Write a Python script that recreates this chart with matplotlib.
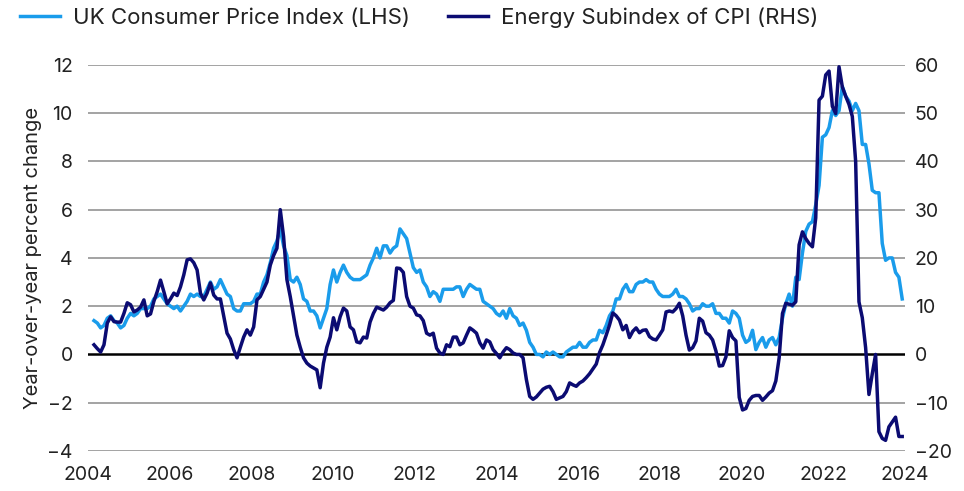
import numpy as np
import matplotlib.pyplot as plt

plt.rcParams['font.family'] = ['Inter', 'DejaVu Sans']

# UK CPI, year-over-year % (monthly, Jan 2004 - Apr 2024)
cpi = [1.4, 1.3, 1.1, 1.2, 1.5, 1.6, 1.4, 1.3, 1.1, 1.2, 1.5, 1.7,
       1.6, 1.7, 1.9, 1.9, 1.9, 2.0, 2.3, 2.4, 2.5, 2.3, 2.1, 2.0,
       1.9, 2.0, 1.8, 2.0, 2.2, 2.5, 2.4, 2.5, 2.4, 2.4, 2.7, 3.0,
       2.7, 2.8, 3.1, 2.8, 2.5, 2.4, 1.9, 1.8, 1.8, 2.1, 2.1, 2.1,
       2.2, 2.5, 2.5, 3.0, 3.3, 3.8, 4.4, 4.7, 5.2, 4.5, 4.1, 3.1,
       3.0, 3.2, 2.9, 2.3, 2.2, 1.8, 1.8, 1.6, 1.1, 1.5, 1.9, 2.9,
       3.5, 3.0, 3.4, 3.7, 3.4, 3.2, 3.1, 3.1, 3.1, 3.2, 3.3, 3.7,
       4.0, 4.4, 4.0, 4.5, 4.5, 4.2, 4.4, 4.5, 5.2, 5.0, 4.8, 4.2,
       3.6, 3.4, 3.5, 3.0, 2.8, 2.4, 2.6, 2.5, 2.2, 2.7, 2.7, 2.7,
       2.7, 2.8, 2.8, 2.4, 2.7, 2.9, 2.8, 2.7, 2.7, 2.2, 2.1, 2.0,
       1.9, 1.7, 1.6, 1.8, 1.5, 1.9, 1.6, 1.5, 1.2, 1.3, 1.0, 0.5,
       0.3, 0.0, 0.0, -0.1, 0.1, 0.0, 0.1, 0.0, -0.1, -0.1, 0.1, 0.2,
       0.3, 0.3, 0.5, 0.3, 0.3, 0.5, 0.6, 0.6, 1.0, 0.9, 1.2, 1.6,
       1.8, 2.3, 2.3, 2.7, 2.9, 2.6, 2.6, 2.9, 3.0, 3.0, 3.1, 3.0,
       3.0, 2.7, 2.5, 2.4, 2.4, 2.4, 2.5, 2.7, 2.4, 2.4, 2.3, 2.1,
       1.8, 1.9, 1.9, 2.1, 2.0, 2.0, 2.1, 1.7, 1.7, 1.5, 1.5, 1.3,
       1.8, 1.7, 1.5, 0.8, 0.5, 0.6, 1.0, 0.2, 0.5, 0.7, 0.3, 0.6,
       0.7, 0.4, 0.7, 1.5, 2.1, 2.5, 2.0, 3.2, 3.1, 4.2, 5.1, 5.4,
       5.5, 6.2, 7.0, 9.0, 9.1, 9.4, 10.1, 9.9, 10.1, 11.1, 10.7, 10.5,
       10.1, 10.4, 10.1, 8.7, 8.7, 7.9, 6.8, 6.7, 6.7, 4.6, 3.9, 4.0,
       4.0, 3.4, 3.2, 2.3]

# Energy subindex of CPI, year-over-year %
energy = [2.0, 1.2, 0.5, 2.0, 6.5, 7.8, 6.8, 6.7, 6.7, 8.5, 10.7, 10.3,
          8.8, 9.2, 9.8, 11.3, 8.0, 8.4, 11.0, 13.0, 15.4, 13.0, 10.5, 11.5,
          12.7, 12.2, 14.0, 16.5, 19.6, 19.8, 19.0, 17.5, 12.7, 11.3, 12.7, 14.8,
          12.3, 11.5, 11.5, 8.0, 4.4, 3.2, 1.0, -0.7, 1.5, 3.6, 5.1, 4.0,
          5.7, 11.3, 12.0, 13.5, 15.0, 18.5, 20.5, 22.0, 30.0, 24.4, 15.5, 12.0,
          8.0, 4.0, 1.5, -0.7, -1.8, -2.4, -2.8, -3.2, -6.9, -1.8, 1.5, 3.6,
          7.6, 5.1, 7.8, 9.6, 9.0, 5.7, 5.1, 2.6, 2.4, 3.6, 3.4, 6.7,
          8.5, 9.8, 9.5, 9.2, 9.8, 10.7, 11.2, 17.9, 17.8, 17.0, 12.0, 10.0,
          9.6, 8.2, 8.0, 7.0, 4.4, 4.0, 4.4, 1.3, 0.3, 0.0, 2.0, 1.6,
          3.6, 3.6, 2.0, 2.4, 4.0, 5.5, 5.0, 4.4, 2.4, 1.3, 3.0, 2.6,
          1.0, 0.2, -0.7, 0.5, 1.4, 1.0, 0.3, 0.0, 0.0, -0.7, -5.2, -8.7,
          -9.3, -8.8, -8.0, -7.2, -6.8, -6.6, -7.7, -9.3, -9.0, -8.7, -7.7, -5.9,
          -6.3, -6.6, -5.9, -5.5, -4.8, -4.0, -3.0, -2.0, 0.4, 2.0, 4.0, 6.1,
          8.6, 8.0, 7.1, 5.1, 6.0, 3.5, 4.8, 5.5, 4.5, 5.0, 5.1, 3.7,
          3.2, 3.0, 4.0, 5.1, 8.8, 9.0, 8.8, 9.5, 10.6, 8.0, 4.0, 0.9,
          1.4, 2.8, 7.5, 6.9, 4.5, 4.0, 3.0, 0.7, -2.4, -2.3, -0.5, 4.9,
          3.5, 2.8, -8.9, -11.5, -11.2, -9.5, -8.7, -8.5, -8.5, -9.5, -8.8, -8.0,
          -7.5, -5.5, -0.7, 8.5, 10.6, 10.4, 10.2, 10.9, 22.7, 25.4, 24.0, 23.0,
          22.3, 28.3, 52.7, 53.5, 57.9, 58.7, 51.4, 49.9, 59.6, 55.4, 53.5, 51.8,
          49.3, 40.0, 10.9, 7.6, 1.4, -8.3, -4.0, 0.0, -16.0, -17.4, -17.8, -15.0,
          -14.0, -13.0, -17.0, -17.0]

year_labels = ['2004', '2006', '2008', '2010', '2012', '2014',
               '2016', '2018', '2020', '2022', '2024']

light = '#1a9ceb'
dark = '#0b0b72'
txt = '#222222'

t = 2004 + np.arange(len(cpi)) / 12.0

fig = plt.figure(figsize=(9.64, 4.91), dpi=100)
ax = fig.add_axes([0.0913, 0.0815, 0.8475, 0.7865])
ax2 = ax.twinx()

# grid on the left axis scale
for v in range(-4, 13, 2):
    if v == 0:
        ax.axhline(v, color='black', lw=1.8, zorder=1)
    else:
        ax.axhline(v, color='#8a8a8a', lw=1.1, zorder=1)

l1, = ax.plot(t, cpi, color=light, lw=2.5, zorder=3,
              label='UK Consumer Price Index (LHS)')
l2, = ax2.plot(t, energy, color=dark, lw=2.5, zorder=4,
               label='Energy Subindex of CPI (RHS)')

ax.set_ylim(-4, 12)
ax2.set_ylim(-20, 60)
ax.set_yticks(range(-4, 13, 2))
ax2.set_yticks(range(-20, 61, 10))
ax.set_xlim(t[0] - 0.03, t[-1] + 0.03)
ax.set_xticks(np.linspace(2003.85, 2024.32, len(year_labels)))
ax.set_xticklabels(year_labels)

for a in (ax, ax2):
    for s in a.spines.values():
        s.set_visible(False)
    a.tick_params(length=0, labelsize=14, labelcolor=txt)
ax.tick_params(axis='y', pad=11)
ax2.tick_params(axis='y', pad=7)
ax.tick_params(axis='x', pad=11)

ax.set_ylabel('Year-over-year percent change', fontsize=14.5, color=txt,
              labelpad=4)

fig.legend(handles=[l1, l2], loc='upper left', bbox_to_anchor=(0.0, 1.025),
           ncol=2, frameon=False, fontsize=16, handlelength=1.8,
           handletextpad=0.6, columnspacing=1.7, labelcolor=txt)

plt.savefig('out.png', dpi=100)
